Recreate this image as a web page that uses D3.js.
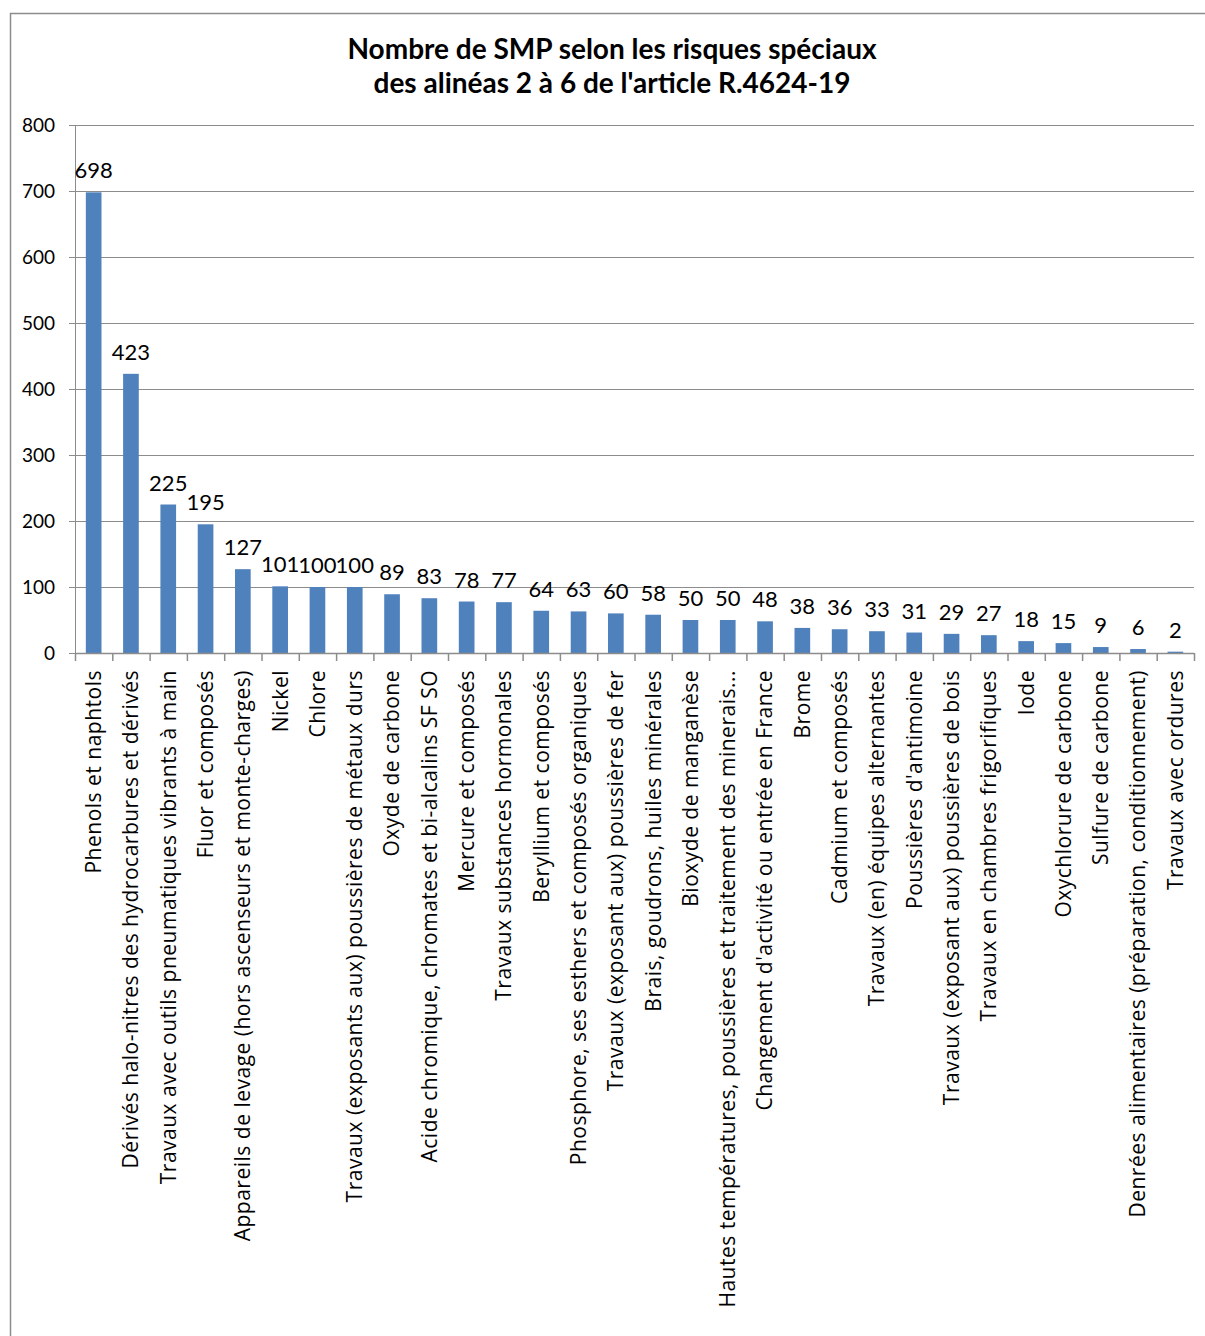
<!DOCTYPE html>
<html>
<head>
<meta charset="utf-8">
<script src="https://cdn.jsdelivr.net/npm/d3@7"></script>
<style>
  body { margin: 0; background: #fff; }
  text { fill: #000; }
</style>
</head>
<body>
<div id="chart"></div>
<script>
// categories and values
const categories = [
  "Phenols et naphtols",
  "Dérivés halo-nitres des hydrocarbures et dérivés",
  "Travaux avec outils pneumatiques vibrants à main",
  "Fluor et composés",
  "Appareils de levage (hors ascenseurs et monte-charges)",
  "Nickel",
  "Chlore",
  "Travaux (exposants aux) poussières de métaux durs",
  "Oxyde de carbone",
  "Acide chromique, chromates et bi-alcalins SF SO",
  "Mercure et composés",
  "Travaux substances hormonales",
  "Beryllium et composés",
  "Phosphore, ses esthers et composés organiques",
  "Travaux (exposant aux) poussières de fer",
  "Brais, goudrons, huiles minérales",
  "Bioxyde de manganèse",
  "Hautes températures, poussières et traitement des minerais...",
  "Changement d'activité ou entrée en France",
  "Brome",
  "Cadmium et composés",
  "Travaux (en) équipes alternantes",
  "Poussières d'antimoine",
  "Travaux (exposant aux) poussières de bois",
  "Travaux en chambres frigorifiques",
  "Iode",
  "Oxychlorure de carbone",
  "Sulfure de carbone",
  "Denrées alimentaires (préparation, conditionnement)",
  "Travaux avec ordures"
];
const values = [698, 423, 225, 195, 127, 101, 100, 100, 89, 83, 78, 77, 64, 63, 60, 58,
  50, 50, 48, 38, 36, 33, 31, 29, 27, 18, 15, 9, 6, 2];
const yTicks = [0, 100, 200, 300, 400, 500, 600, 700, 800];
const titleLines = ["Nombre de SMP selon les risques spéciaux",
  "des alinéas 2 à 6 de l'article R.4624-19"];

let data = categories.map((c, i) => ({ name: c, value: values[i] }));

let svg_width = 1205;
let svg_height = 1336;
let margin = { top: 125, right: 11, bottom: 683, left: 75 };
let width = svg_width - margin.left - margin.right;
let height = svg_height - margin.top - margin.bottom;

let svg = d3.select("#chart")
  .append("svg")
  .attr("width", svg_width)
  .attr("height", svg_height)
  .style("font-family", "Lato, sans-serif");

// outer frame (runs off the right and bottom edge)
svg.append("rect")
  .attr("x", 10.5)
  .attr("y", 13.5)
  .attr("width", 1210)
  .attr("height", 1340)
  .attr("fill", "none")
  .attr("stroke", "#8c8c8c")
  .attr("stroke-width", 1.5);

// title
svg.append("text")
  .attr("x", 612)
  .attr("y", 59)
  .attr("text-anchor", "middle")
  .style("font-size", "28px")
  .style("font-weight", "bold")
  .selectAll("tspan")
  .data(titleLines)
  .enter()
  .append("tspan")
  .attr("x", 612)
  .attr("dy", (d, i) => i === 0 ? 0 : 34)
  .text(d => d);

let g = svg.append("g")
  .attr("transform", `translate(${margin.left}, ${margin.top})`);

let x = d3.scaleBand()
  .domain(categories)
  .range([0, width])
  .paddingInner(0.58)
  .paddingOuter(0.29);

let band = d3.scaleBand().domain(categories).range([0, width]);

let y = d3.scaleLinear()
  .domain([0, 800])
  .range([height, 0]);

// gridlines
g.append("g")
  .selectAll("line")
  .data(yTicks.filter(d => d > 0))
  .enter()
  .append("line")
  .attr("x1", 0)
  .attr("x2", width)
  .attr("y1", d => y(d) + 0.5)
  .attr("y2", d => y(d) + 0.5)
  .attr("stroke", "#8c8c8c")
  .attr("stroke-width", 1.2);

// y axis
let yAxis = g.append("g")
  .call(d3.axisLeft(y).tickValues(yTicks).tickSize(6).tickPadding(14));
yAxis.selectAll("line").attr("stroke", "#8c8c8c");
yAxis.select(".domain").attr("stroke", "#8c8c8c").attr("d", `M0.5,0V${height}`);
yAxis.selectAll("text")
  .style("font-size", "19px")
  .style("font-family", "Lato, sans-serif")
  .attr("fill", "#000")
  .attr("dy", "0.35em");

// bars
g.selectAll("rect.bar")
  .data(data)
  .enter()
  .append("rect")
  .attr("class", "bar")
  .attr("x", d => x(d.name))
  .attr("width", x.bandwidth())
  .attr("y", d => y(d.value))
  .attr("height", d => height - y(d.value))
  .attr("fill", "#4f81bd");

// value labels
g.selectAll("text.val")
  .data(data)
  .enter()
  .append("text")
  .attr("class", "val")
  .attr("x", d => x(d.name) + x.bandwidth() / 2)
  .attr("y", d => y(d.value) - 14)
  .attr("text-anchor", "middle")
  .style("font-size", "22px")
  .text(d => d.value);

// x axis line and ticks at band edges
g.append("line")
  .attr("x1", 0)
  .attr("x2", width)
  .attr("y1", height + 0.5)
  .attr("y2", height + 0.5)
  .attr("stroke", "#8c8c8c")
  .attr("stroke-width", 1.5);

let edges = categories.map(c => band(c)).concat([width]);
g.append("g")
  .selectAll("line")
  .data(edges)
  .enter()
  .append("line")
  .attr("x1", d => d + 0.5)
  .attr("x2", d => d + 0.5)
  .attr("y1", height)
  .attr("y2", height + 8)
  .attr("stroke", "#8c8c8c")
  .attr("stroke-width", 1.5);

// category labels, rotated
g.selectAll("text.cat")
  .data(data)
  .enter()
  .append("text")
  .attr("class", "cat")
  .attr("transform", d => `translate(${band(d.name) + band.bandwidth() / 2}, ${height + 17}) rotate(-90)`)
  .attr("dy", "0.35em")
  .attr("text-anchor", "end")
  .style("font-family", "'Open Sans', sans-serif")
  .style("font-size", "21px")
  .style("letter-spacing", "0.5px")
  .text(d => d.name);
</script>
</body>
</html>
